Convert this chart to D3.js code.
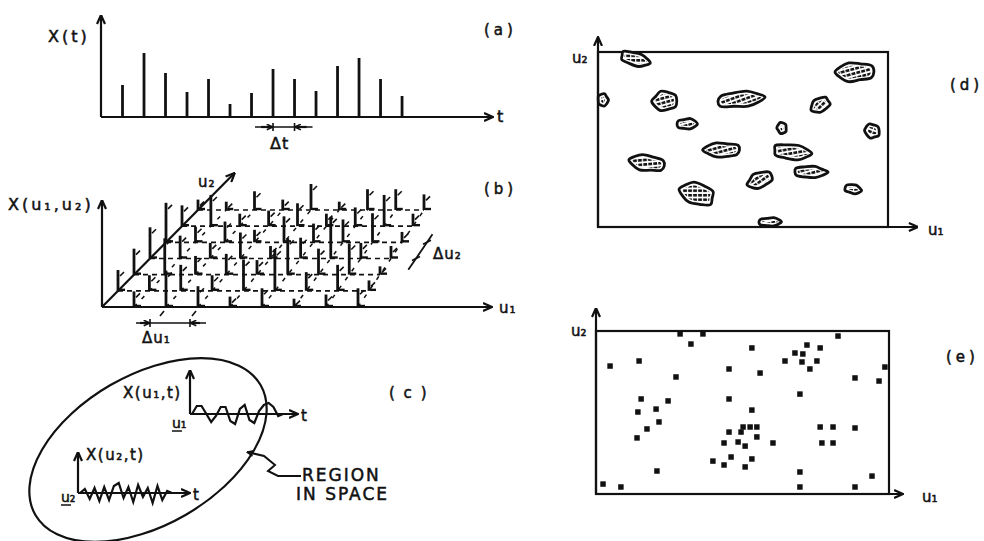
<!DOCTYPE html>
<html>
<head>
<meta charset="utf-8">
<script src="https://cdn.jsdelivr.net/npm/d3@7"></script>
<style>
  body { margin: 0; background: #fff; }
  text { font-family: "DejaVu Sans", sans-serif; fill: #111; stroke: #111; stroke-width: 0.5px; }
</style>
</head>
<body>
<div id="fig"></div>
<script>
// (a) sampled values of X(t), one per time step
var sampleHeights = [32, 64, 44, 25, 38, 13, 24, 48, 38, 26, 51, 59, 38, 21];

// (b) sampled values of X(u1,u2); rows go along u2 (front row first), columns along u1
var fieldHeights = [
  [0, 15, 35, 20, 10, 18, 8, 12, 18],
  [20, 15, 25, 15, 30, 40, 18, 25, 10],
  [25, 35, 18, 20, 14, 35, 25, 30, 8],
  [30, 22, 15, 25, 12, 20, 40, 15, 12],
  [38, 15, 20, 12, 25, 18, 22, 28, 10],
  [20, 30, 12, 15, 22, 12, 18, 30, 12],
  [10, 8, 18, 10, 25, 8, 20, 20, 15]
];

// (c) time histories at the two points u1 and u2
var waveU1 = [0, 8, 8, 0, -8, -2, 7, 7, -7, -10, 5, 9, -6, -9, 3, 9, 11, 7, -2, 0];
var waveU2 = [0, 4, -6, 5, -8, 6, -7, 7, 10, -5, 6, -9, 8, -4, 5, -10, 7, -7, 2, 0];

// (d) regions: [u1, u2, extent along u1, extent along u2, tilt in degrees]
var regions = [
  [12.8, 96, 10.3, 6.9, 15], [88.6, 88.6, 13.1, 10.3, 0], [1.7, 72.6, 3.4, 6.9, 0],
  [23.1, 72, 8.6, 10.3, 0], [49, 73, 15.5, 8.6, -5], [76.6, 69.7, 6.9, 7.4, -30],
  [30.7, 58.9, 6.9, 5.7, 0], [63.4, 56.6, 3.1, 6.3, 0], [94.5, 54.9, 5.2, 7.4, 35],
  [42.8, 44, 12.1, 8, 0], [66.9, 42.9, 13.1, 8, 5], [16.9, 36.6, 12.1, 8.6, 10],
  [73.1, 31.4, 11, 6.3, 0], [55.9, 26.9, 9, 8, -20], [87.9, 21.7, 5.5, 5.1, 10],
  [34.1, 18.9, 12.1, 11.4, 15], [59.3, 2.9, 7.6, 4.6, 0]
];

// (e) point events: [u1, u2]
var events = [
  [28.7, 98.2], [36.5, 98.2], [32.4, 92.0], [4.8, 78.5], [14.7, 81.6], [27.3, 71.8],
  [45.4, 76.7], [53.2, 89.6], [56.0, 74.2], [72.0, 91.4], [76.5, 89.6], [82.6, 96.9],
  [64.5, 81.6], [67.9, 86.5], [70.6, 85.9], [70.3, 81.0], [75.4, 81.6], [73.0, 76.7],
  [98.6, 77.9], [88.4, 71.2], [96.6, 69.3], [69.6, 61.3], [15.4, 58.3], [20.5, 52.1],
  [24.6, 57.1], [14.3, 50.3], [21.5, 44.2], [17.4, 39.9], [14.0, 34.4], [45.4, 58.3],
  [53.2, 51.5], [50.2, 41.1], [52.6, 41.1], [54.9, 41.1], [45.4, 38.0], [49.5, 38.0],
  [54.9, 35.0], [43.7, 31.3], [48.5, 31.9], [50.9, 29.4], [60.4, 31.3], [76.5, 41.1],
  [80.9, 41.1], [88.4, 40.5], [77.1, 31.3], [80.9, 31.3], [39.9, 20.2], [46.1, 22.7],
  [53.2, 21.5], [43.7, 17.8], [50.9, 16.6], [20.8, 14.1], [69.6, 13.5], [94.2, 11.0],
  [2.4, 6.1], [8.5, 4.3], [69.6, 4.3], [88.4, 4.3]
];

var panelLabels = ["(a)", "(b)", "(c)", "(d)", "(e)"];

var ink = "#111";
var svg = d3.select("#fig").append("svg").attr("width", 984).attr("height", 541);
var defs = svg.append("defs");

function marker(id, len) {
  defs.append("marker").attr("id", id)
    .attr("viewBox", "0 0 10 10").attr("refX", 9.5).attr("refY", 5)
    .attr("markerWidth", len).attr("markerHeight", len)
    .attr("markerUnits", "userSpaceOnUse").attr("orient", "auto")
    .append("path").attr("d", "M0.5,1 L9.5,5 L0.5,9")
    .attr("fill", "none").attr("stroke", ink).attr("stroke-width", 2.2);
}
marker("arr", 10);
marker("arrS", 7);

var hatch = defs.append("pattern").attr("id", "hatch")
  .attr("patternUnits", "userSpaceOnUse").attr("width", 4.5).attr("height", 5)
  .attr("patternTransform", "rotate(75)");
hatch.append("rect").attr("width", 4.5).attr("height", 5).attr("fill", "#fff");
hatch.append("line").attr("x1", 1.3).attr("x2", 1.3).attr("y1", 0).attr("y2", 3.8)
  .attr("stroke", ink).attr("stroke-width", 2.6);

function arrow(g, x1, y1, x2, y2, m) {
  return g.append("line")
    .attr("x1", x1).attr("y1", y1).attr("x2", x2).attr("y2", y2)
    .attr("stroke", ink).attr("stroke-width", 2.2)
    .attr("marker-end", "url(#" + (m || "arr") + ")");
}
function seg(g, x1, y1, x2, y2, w) {
  return g.append("line")
    .attr("x1", x1).attr("y1", y1).attr("x2", x2).attr("y2", y2)
    .attr("stroke", ink).attr("stroke-width", w || 2);
}
function label(g, x, y, txt, size, spacing) {
  return g.append("text").attr("x", x).attr("y", y)
    .attr("font-size", size || 16).attr("letter-spacing", spacing == null ? 3 : spacing)
    .text(txt);
}

// ---------- (a) ----------
var gA = svg.append("g");
var xa = d3.scaleLinear().domain([0, 18.23]).range([101, 493]);
var ya = d3.scaleLinear().domain([0, 100]).range([117, 17]);
arrow(gA, xa(0), ya(0), xa.range()[1], ya(0));
arrow(gA, xa(0), ya(0), xa(0), ya(102));
gA.selectAll(".spike").data(sampleHeights).enter().append("line")
  .attr("class", "spike")
  .attr("x1", function (d, i) { return xa(i + 1); })
  .attr("x2", function (d, i) { return xa(i + 1); })
  .attr("y1", ya(0)).attr("y2", function (d) { return ya(d); })
  .attr("stroke", ink).attr("stroke-width", 2.8);
seg(gA, xa(8) - 18, 127, xa(9) + 18, 127, 1.6);
arrow(gA, xa(8) - 12, 127, xa(8), 127, "arrS");
arrow(gA, xa(9) + 12, 127, xa(9), 127, "arrS");
seg(gA, xa(8), 123, xa(8), 131, 1.6);
seg(gA, xa(9), 123, xa(9), 131, 1.6);
label(gA, 48, 42, "X(t)");
label(gA, 497, 122, "t", 16, 0);
label(gA, 270, 149, "\u0394t", 16, 1);
label(gA, 484, 35, panelLabels[0], 15, 4);

// ---------- (b) ----------
var gB = svg.append("g");
var rowY = d3.scaleLinear().domain([0, 6]).range([307, 210]);
var rowL = d3.scaleLinear().domain([0, 6]).range([102, 198]);
var rowR = d3.scaleLinear().domain([0, 6]).range([358, 424]);
var hb = d3.scaleLinear().domain([0, 50]).range([0, 52]);
function gridPt(i, j) {
  var col = d3.scaleLinear().domain([0, 8]).range([rowL(j), rowR(j)]);
  return [col(i), rowY(j)];
}
var rows = d3.range(1, 7), cols = d3.range(1, 9);
rows.forEach(function (j) {
  var a = gridPt(0, j), b = gridPt(8, j);
  seg(gB, a[0], a[1], b[0], b[1], 1.7).attr("stroke-dasharray", "5,4");
});
var colLine = d3.line();
cols.forEach(function (i) {
  gB.append("path").attr("d", colLine(d3.range(0, 7).map(function (j) { return gridPt(i, j); })))
    .attr("fill", "none").attr("stroke", ink).attr("stroke-width", 1.5)
    .attr("stroke-dasharray", "4,7");
});
var cells = [];
fieldHeights.forEach(function (r, j) {
  r.forEach(function (h, i) { if (h > 0) cells.push({ i: i, j: j, h: h }); });
});
var sp = gB.selectAll(".fs").data(cells).enter().append("g").attr("class", "fs");
sp.append("line")
  .attr("x1", function (d) { return gridPt(d.i, d.j)[0]; })
  .attr("x2", function (d) { return gridPt(d.i, d.j)[0]; })
  .attr("y1", function (d) { return gridPt(d.i, d.j)[1]; })
  .attr("y2", function (d) { return gridPt(d.i, d.j)[1] - hb(d.h); })
  .attr("stroke", ink).attr("stroke-width", 2.8);
sp.append("line")
  .attr("x1", function (d) { return gridPt(d.i, d.j)[0] + 2; })
  .attr("x2", function (d) { return gridPt(d.i, d.j)[0] + 6; })
  .attr("y1", function (d) { return gridPt(d.i, d.j)[1] - hb(d.h) + 6; })
  .attr("y2", function (d) { return gridPt(d.i, d.j)[1] - hb(d.h) + 2; })
  .attr("stroke", ink).attr("stroke-width", 1.6);
sp.append("line")
  .attr("x1", function (d) { return gridPt(d.i, d.j)[0] + 1; })
  .attr("x2", function (d) { return gridPt(d.i, d.j)[0] + 7; })
  .attr("y1", function (d) { return gridPt(d.i, d.j)[1] - 1; })
  .attr("y2", function (d) { return gridPt(d.i, d.j)[1] - 1; })
  .attr("stroke", ink).attr("stroke-width", 2.4);
var o = gridPt(0, 0), u2tip = gridPt(0, 8.3);
arrow(gB, o[0], o[1], 492, o[1]);
arrow(gB, o[0], o[1], o[0], 200);
arrow(gB, o[0], o[1], u2tip[0], u2tip[1]);
// delta u1
var d1a = gridPt(1.5, 0)[0], d1b = gridPt(2.75, 0)[0];
seg(gB, d1a - 14, 323, d1b + 16, 323, 1.6);
arrow(gB, d1a - 10, 323, d1a, 323, "arrS");
arrow(gB, d1b + 10, 323, d1b, 323, "arrS");
seg(gB, d1a, 319, d1a, 327, 1.6);
seg(gB, d1b, 319, d1b, 327, 1.6);
seg(gB, d1a + 10, 316, d1a + 14, 311, 1.6);
seg(gB, d1b + 2, 316, d1b + 6, 311, 1.6);
// delta u2
var e0 = gridPt(8, 2.3), e1 = gridPt(8, 4.5), t3 = gridPt(8, 3), t4 = gridPt(8, 4);
seg(gB, e0[0] + 25, e0[1], e1[0] + 25, e1[1], 1.8);
seg(gB, t3[0] + 21, t3[1] + 2, t3[0] + 29, t3[1] - 2, 1.6);
seg(gB, t4[0] + 21, t4[1] + 2, t4[0] + 29, t4[1] - 2, 1.6);
label(gB, 8, 210, "X(u\u2081,u\u2082)");
label(gB, 198, 187, "u\u2082", 15, 1);
label(gB, 499, 313, "u\u2081", 15, 1);
label(gB, 433, 259, "\u0394u\u2082", 15, 1);
label(gB, 142, 343, "\u0394u\u2081", 15, 1);
label(gB, 484, 194, panelLabels[1], 15, 4);

// ---------- (c) ----------
var gC = svg.append("g");
gC.append("ellipse").attr("cx", 148).attr("cy", 450).attr("rx", 130).attr("ry", 75)
  .attr("transform", "rotate(-30,148,450)")
  .attr("fill", "none").attr("stroke", ink).attr("stroke-width", 2.2);
function history(data, x0, x1, base) {
  var xs = d3.scaleLinear().domain([0, data.length - 1]).range([x0, x1]);
  var ys = d3.scaleLinear().domain([-10, 10]).range([base + 10, base - 10]);
  gC.append("path").attr("d", d3.line().x(function (d, i) { return xs(i); }).y(function (d) { return ys(d); })(data))
    .attr("fill", "none").attr("stroke", ink).attr("stroke-width", 2.2);
}
arrow(gC, 190, 414, 298, 414);
arrow(gC, 190, 414, 190, 370);
history(waveU1, 192, 283, 414);
arrow(gC, 78, 493, 190, 493);
arrow(gC, 78, 493, 78, 452);
history(waveU2, 80, 172, 493);
label(gC, 123, 398, "X(u\u2081,t)", 15, 1.5);
label(gC, 172, 428, "u\u2081", 14, 0);
seg(gC, 172, 431, 182, 431, 1.5);
label(gC, 301, 421, "t", 15, 0);
label(gC, 86, 460, "X(u\u2082,t)", 15, 1.5);
label(gC, 61, 502, "u\u2082", 14, 0);
seg(gC, 61, 505, 71, 505, 1.5);
label(gC, 193, 500, "t", 15, 0);
gC.append("path").attr("d", "M301,476 L278,476 L268,471 L275,465 L264,456 L247,452")
  .attr("fill", "none").attr("stroke", ink).attr("stroke-width", 2)
  .attr("marker-end", "url(#arrS)");
label(gC, 302, 481, "REGION", 17, 2);
label(gC, 296, 500, "IN SPACE", 17, 2);
label(gC, 389, 398, "( c )", 15, 2);

// ---------- (d) ----------
var gD = svg.append("g");
var xd = d3.scaleLinear().domain([0, 100]).range([598, 888]);
var yd = d3.scaleLinear().domain([0, 100]).range([227, 52]);
gD.append("rect").attr("x", xd(0)).attr("y", yd(100))
  .attr("width", xd(100) - xd(0)).attr("height", yd(0) - yd(100))
  .attr("fill", "none").attr("stroke", ink).attr("stroke-width", 2.2);
arrow(gD, xd(0), yd(0), xd(110.3), yd(0));
arrow(gD, xd(0), yd(0), xd(0), yd(108.6));
// outline wobble, shifted per region so each shape differs
var bumps = [1, 0.9, 1.06, 0.95, 1.02, 0.86, 1.08, 0.94, 1, 0.9];
var blobLine = d3.line().curve(d3.curveCatmullRomClosed.alpha(0.5));
function blobPts(rx, ry, k) {
  return bumps.map(function (b, n) {
    var a = n / bumps.length * 2 * Math.PI;
    var bb = bumps[(n + k * 3) % bumps.length] * 1.05;
    return [Math.cos(a) * rx * bb, Math.sin(a) * ry * bb];
  });
}
regions.forEach(function (r, k) {
  var rx = (xd(r[2]) - xd(0)) / 2, ry = (yd(0) - yd(r[3])) / 2;
  var g = gD.append("g")
    .attr("transform", "translate(" + xd(r[0]) + "," + yd(r[1]) + ") rotate(" + r[4] + ")");
  g.append("path").attr("d", blobLine(blobPts(rx, ry, k)))
    .attr("fill", "#fff").attr("stroke", ink).attr("stroke-width", 2.8);
  g.append("path").attr("d", blobLine(blobPts(Math.max(rx - 3, 1), Math.max(ry - 3, 1), k)))
    .attr("fill", "url(#hatch)");
});
label(gD, 572, 63, "u\u2082", 15, 0);
label(gD, 928, 235, "u\u2081", 15, 0);
label(gD, 950, 90, panelLabels[3], 15, 4);

// ---------- (e) ----------
var gE = svg.append("g");
var xe = d3.scaleLinear().domain([0, 100]).range([596, 889]);
var ye = d3.scaleLinear().domain([0, 100]).range([494, 331]);
gE.append("rect").attr("x", xe(0)).attr("y", ye(100))
  .attr("width", xe(100) - xe(0)).attr("height", ye(0) - ye(100))
  .attr("fill", "none").attr("stroke", ink).attr("stroke-width", 2.2);
arrow(gE, xe(0), ye(0), xe(104.8), ye(0));
arrow(gE, xe(0), ye(0), xe(0), ye(114.1));
gE.selectAll(".ev").data(events).enter().append("path").attr("class", "ev")
  .attr("d", d3.symbol().type(d3.symbolSquare).size(30))
  .attr("transform", function (d) { return "translate(" + xe(d[0]) + "," + ye(d[1]) + ")"; })
  .attr("fill", ink);
label(gE, 571, 336, "u\u2082", 15, 0);
label(gE, 922, 502, "u\u2081", 15, 0);
label(gE, 946, 362, panelLabels[4], 15, 4);
</script>
</body>
</html>
